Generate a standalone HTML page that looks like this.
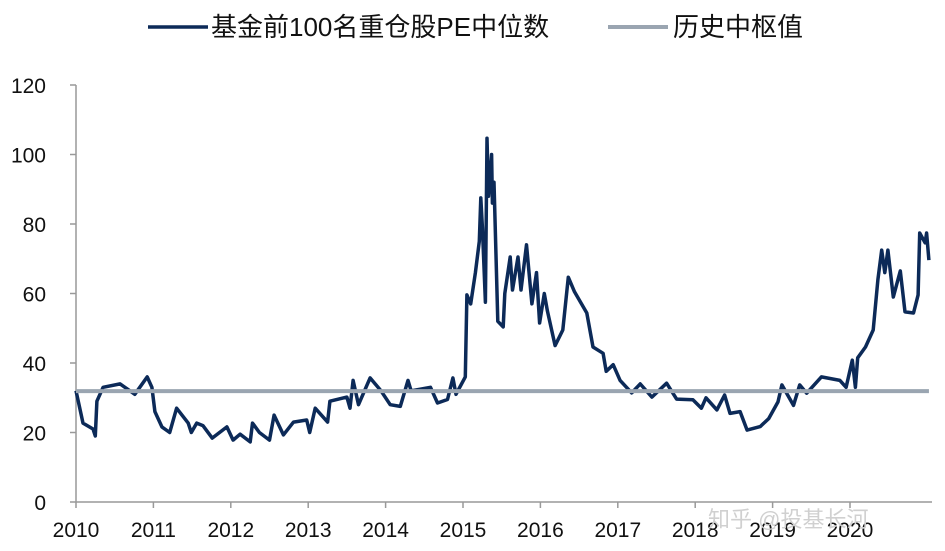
<!DOCTYPE html>
<html><head><meta charset="utf-8"><style>
body{margin:0;background:#fff;}
svg{display:block;font-family:"Liberation Sans","Noto Sans CJK SC",sans-serif;}
</style></head><body>
<svg id="chart" width="945" height="551">
 <g id="legend">
  <line x1="148" y1="27" x2="208" y2="27" stroke="#0c2a58" stroke-width="3.5"/>
  <text x="211" y="36" font-size="26" fill="#111">基金前100名重仓股PE中位数</text>
  <line x1="608" y1="27" x2="668" y2="27" stroke="#9aa5b1" stroke-width="4"/>
  <text x="673" y="36" font-size="26" fill="#111">历史中枢值</text>
 </g>
 <g id="axes"></g>
 <g id="series"></g>
 <text x="708" y="527" font-size="22" fill="#d0d0d0">知乎 @投基长河</text>
</svg>
<script>
const yTicks=[0,20,40,60,80,100,120];
const xYears=[2010,2011,2012,2013,2014,2015,2016,2017,2018,2019,2020];
const medianValue=31.9;
const dates=[2010.0,2010.09,2010.22,2010.25,2010.27,2010.35,2010.57,2010.76,2010.92,2010.98,2011.02,2011.11,2011.21,2011.3,2011.45,2011.49,2011.56,2011.64,2011.76,2011.95,2012.03,2012.12,2012.25,2012.28,2012.37,2012.5,2012.56,2012.68,2012.81,2012.98,2013.02,2013.09,2013.25,2013.28,2013.5,2013.54,2013.58,2013.65,2013.8,2013.94,2014.06,2014.19,2014.29,2014.33,2014.58,2014.67,2014.8,2014.87,2014.91,2015.03,2015.05,2015.1,2015.16,2015.21,2015.23,2015.25,2015.29,2015.31,2015.33,2015.37,2015.38,2015.4,2015.45,2015.52,2015.54,2015.61,2015.64,2015.71,2015.75,2015.82,2015.89,2015.95,2015.99,2016.05,2016.09,2016.19,2016.29,2016.36,2016.44,2016.6,2016.68,2016.81,2016.85,2016.94,2017.03,2017.18,2017.29,2017.44,2017.63,2017.76,2017.97,2018.08,2018.14,2018.28,2018.38,2018.45,2018.58,2018.67,2018.84,2018.95,2019.07,2019.12,2019.27,2019.35,2019.44,2019.63,2019.87,2019.95,2020.03,2020.07,2020.1,2020.2,2020.3,2020.36,2020.41,2020.45,2020.49,2020.56,2020.65,2020.71,2020.82,2020.88,2020.9,2020.97,2020.99,2021.02];
const values=[32,22.7,21,19,29,33,34,31,36,33,26,21.6,20,27,22.7,20,22.7,22,18.4,21.6,17.8,19.5,17.3,22.7,20,17.8,25,19.3,23,23.6,20,27,23,29,30.2,27,35,28,35.7,32,28,27.5,35,32,33,28.5,29.5,35.7,31,36,59.6,57,66,75,87.5,79,57.5,104.7,88,100,86,92,52,50.4,60,70.5,61,70.5,61,74,57,66,51.5,60,55,45,49.5,64.7,60.5,54.4,44.6,42.8,37.6,39.5,35,31.4,34,30.2,34.2,29.6,29.4,27,30,26.5,30.8,25.5,26,20.7,21.7,24,28.8,33.7,27.8,33.7,31.3,36,35,33,40.8,33,41.5,44.6,49.5,64,72.5,66,72.5,59,66.5,54.7,54.4,59.6,77.4,74.6,77.4,69.6];
const NS="http://www.w3.org/2000/svg";
const X0=76,PX=77.4,Y0=502,PY=3.475;
function xs(t){return X0+(t-2010)*PX;}
function ys(v){return Y0-v*PY;}
const axes=document.getElementById('axes'),series=document.getElementById('series');
function mk(tag,attrs,parent){const e=document.createElementNS(NS,tag);for(const k in attrs)e.setAttribute(k,attrs[k]);parent.appendChild(e);return e;}
let yl=mk('line',{x1:X0,y1:ys(120),x2:X0,y2:Y0,stroke:'#999','stroke-width':1.5},axes);


let xl=mk('line',{x1:X0,y1:Y0,x2:932,y2:Y0,stroke:'#999','stroke-width':1.5},axes);


yTicks.forEach(v=>{
 let tk=mk('line',{x1:X0-6,y1:ys(v),x2:X0,y2:ys(v),stroke:'#999','stroke-width':1.5},axes);
 
 
 let tx=mk('text',{x:46,y:ys(v)+8,'font-size':21,fill:'#111','text-anchor':'end'},axes);
 tx.textContent=v;
 
 
});
xYears.forEach(yr=>{
 let tk=mk('line',{x1:xs(yr),y1:Y0,x2:xs(yr),y2:Y0+6,stroke:'#999','stroke-width':1.5},axes);
 
 
 let tx=mk('text',{x:xs(yr),y:Y0+35,'font-size':21,fill:'#111','text-anchor':'middle'},axes);
 tx.textContent=yr;
 
 
});
let d=dates.map((t,i)=>(i?'L':'M')+xs(t).toFixed(1)+' '+ys(values[i]).toFixed(1)).join(' ');
let p=mk('path',{d:d,fill:'none',stroke:'#0c2a58','stroke-width':3.5,'stroke-linejoin':'round'},series);


let m=mk('line',{x1:X0,y1:ys(medianValue),x2:xs(dates[dates.length-1]),y2:ys(medianValue),stroke:'#9aa5b1','stroke-width':4},series);


</script>
</body></html>
